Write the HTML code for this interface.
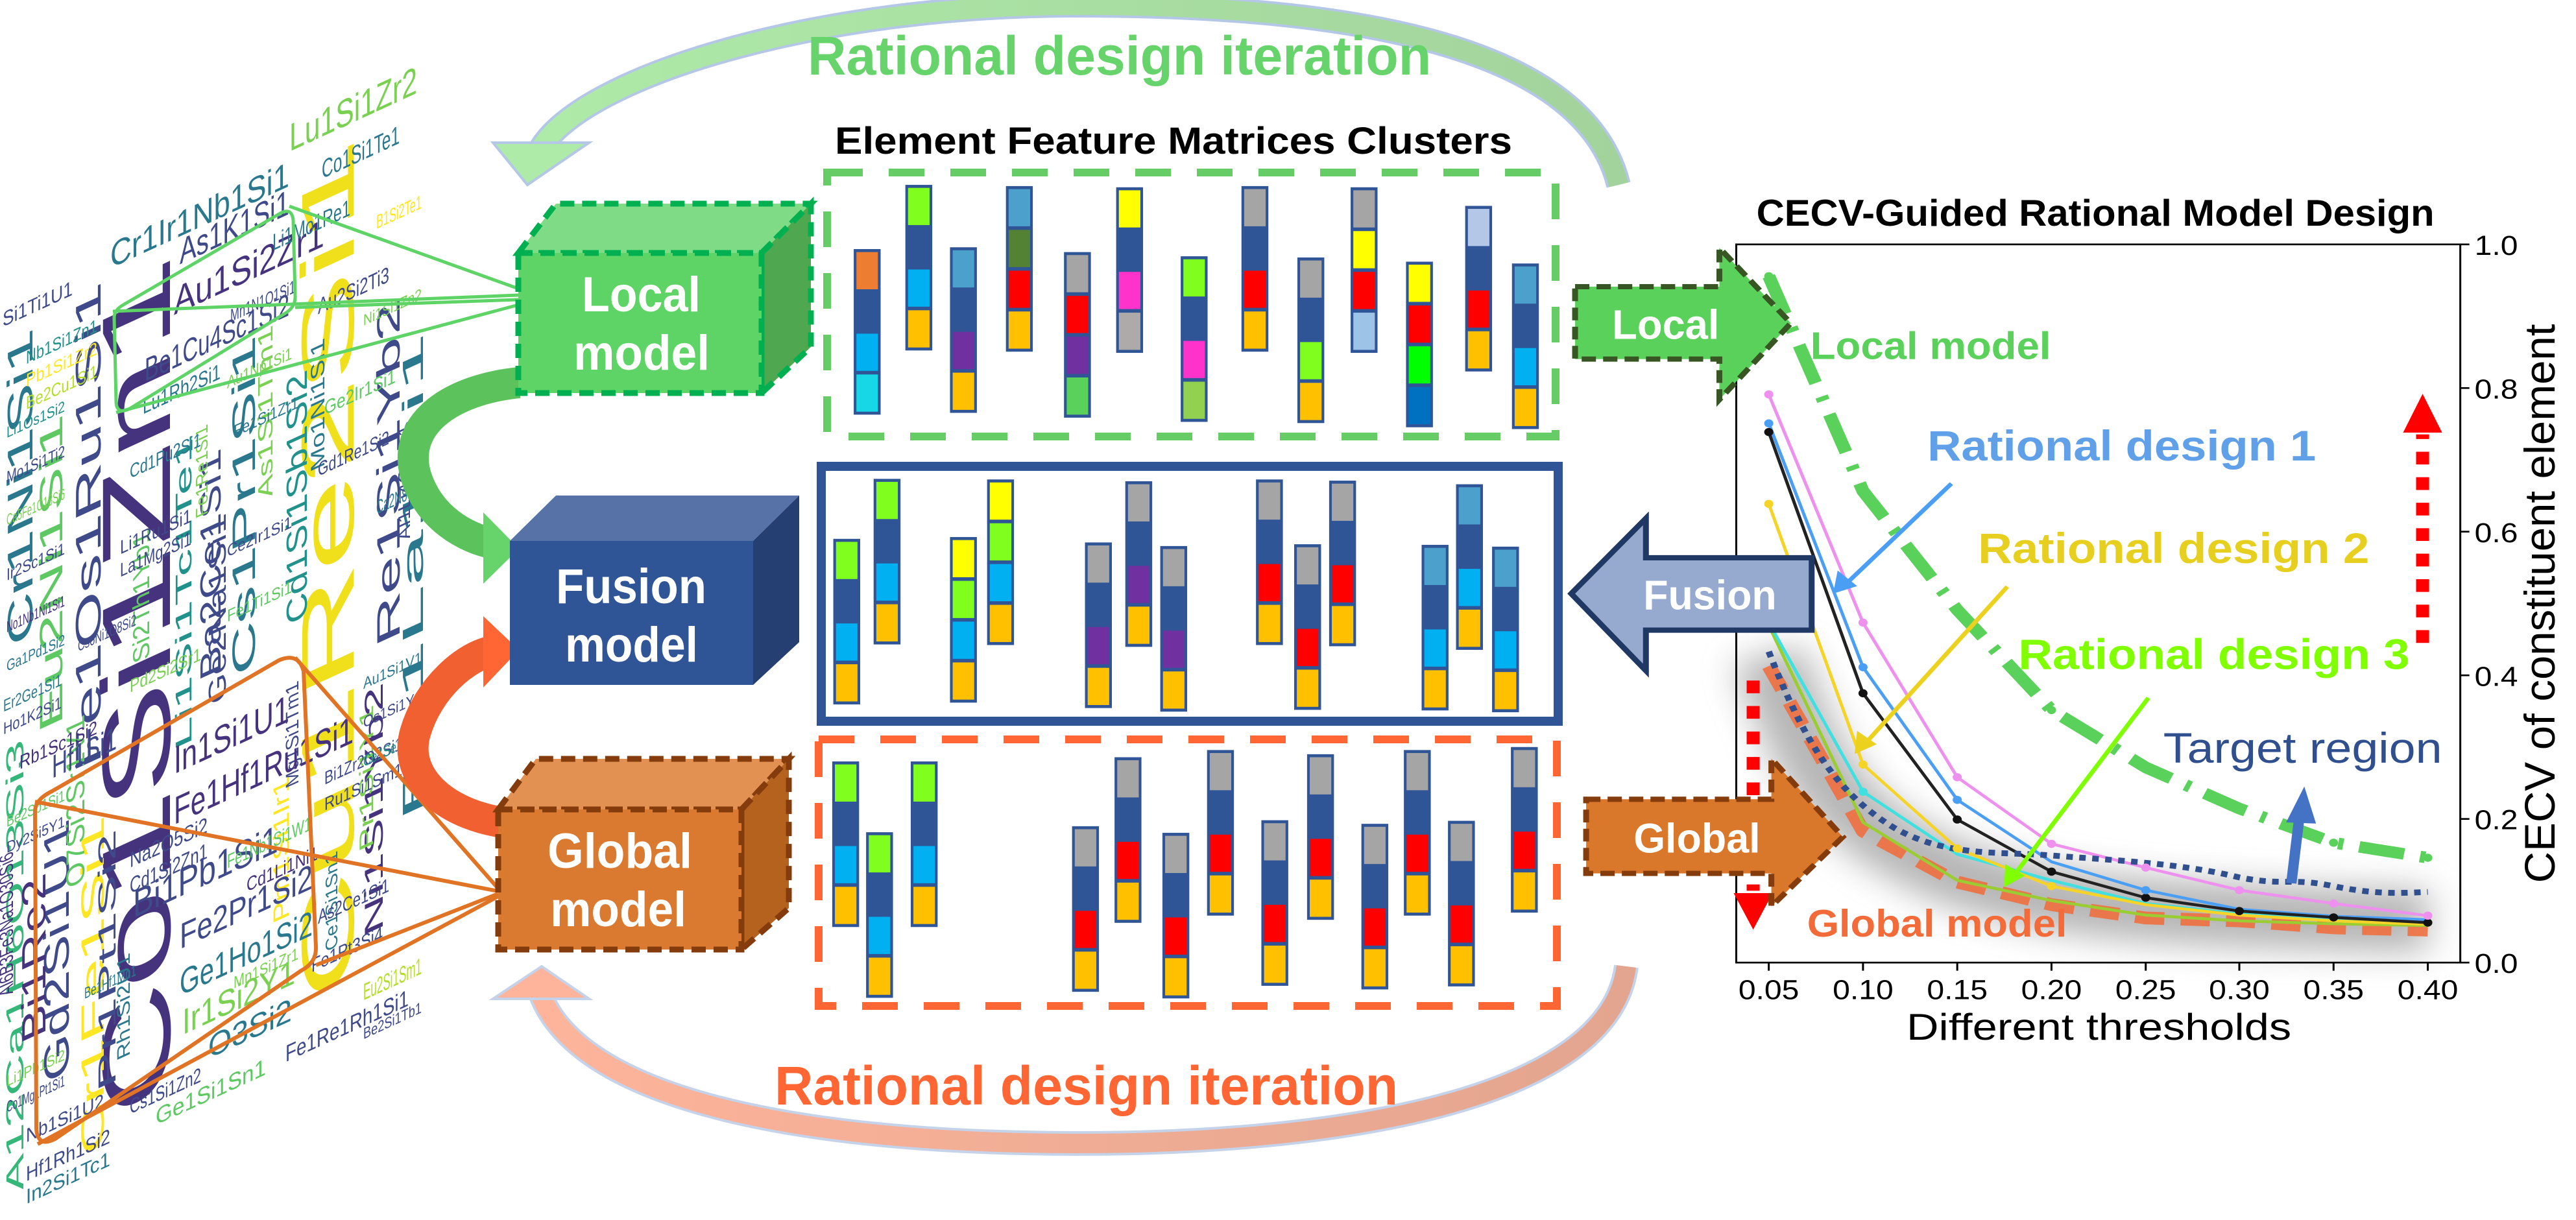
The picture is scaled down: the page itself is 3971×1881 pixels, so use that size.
<!DOCTYPE html>
<html><head><meta charset="utf-8"><style>
html,body{margin:0;padding:0;background:#fff}
svg{display:block}
text{font-family:"Liberation Sans",Arial,sans-serif}
.b{font-weight:bold}
</style></head><body>
<svg width="3971" height="1881" viewBox="0 0 3971 1881" xmlns="http://www.w3.org/2000/svg">
<defs>
<rect id="bar" width="50" height="276" fill="#2f5597"/>
<rect id="cO" width="40" height="62" fill="#ed7d31"/>
<rect id="cB" width="40" height="62" fill="#00b0f0"/>
<rect id="cC" width="40" height="62" fill="#17d7e6"/>
<rect id="cL" width="40" height="62" fill="#80ff1f"/>
<rect id="cA" width="40" height="62" fill="#ffc000"/>
<rect id="cLB" width="40" height="62" fill="#4ba0cc"/>
<rect id="cP" width="40" height="62" fill="#7030a0"/>
<rect id="cDG" width="40" height="62" fill="#548235"/>
<rect id="cR" width="40" height="62" fill="#ff0000"/>
<rect id="cG" width="40" height="62" fill="#a5a5a5"/>
<rect id="cGR" width="40" height="62" fill="#5ad15a"/>
<rect id="cY" width="40" height="62" fill="#ffff00"/>
<rect id="cM" width="40" height="62" fill="#ff33cc"/>
<rect id="cGA" width="40" height="62" fill="#aeaaaa"/>
<rect id="cLG" width="40" height="62" fill="#92d050"/>
<rect id="cPB" width="40" height="62" fill="#9dc3e6"/>
<rect id="cG0" width="40" height="62" fill="#00ff00"/>
<rect id="cB2" width="40" height="62" fill="#0070c0"/>
<rect id="cPL" width="40" height="62" fill="#b4c7e7"/>
<filter id="blur" x="-20%" y="-50%" width="140%" height="200%"><feGaussianBlur stdDeviation="28"/></filter>
<linearGradient id="gTop" x1="0" x2="1" y1="0" y2="0"><stop offset="0" stop-color="#aeeaa8"/><stop offset="1" stop-color="#a3d39c"/></linearGradient>
<linearGradient id="gBot" x1="0" x2="1" y1="0" y2="0"><stop offset="0" stop-color="#fdb49a"/><stop offset="1" stop-color="#e3a58f"/></linearGradient>
</defs>

<!-- ===== Word cloud ===== -->
<g transform="matrix(1,-0.46,0,1,0,420)">
<text transform="translate(262,1390) rotate(-90)" font-size="150" fill="#46337e" textLength="1300" lengthAdjust="spacingAndGlyphs">Co1Si1Zn1</text>
<text transform="translate(545,1350) rotate(-90)" font-size="115" fill="#f0e01c" textLength="1310" lengthAdjust="spacingAndGlyphs">Cu1Re2Si1</text>
<text transform="translate(50,587) rotate(-90)" font-size="55" fill="#2a788e" textLength="480" lengthAdjust="spacingAndGlyphs">Cr1Ni1Si1</text>
<text transform="translate(96,741) rotate(-90)" font-size="50" fill="#5ec962" textLength="480" lengthAdjust="spacingAndGlyphs">Eu2Ni1Si1</text>
<text transform="translate(155,828) rotate(-90)" font-size="55" fill="#3e4a89" textLength="744" lengthAdjust="spacingAndGlyphs">Fe1Os1Ru1Si1</text>
<text transform="translate(36,1430) rotate(-90)" font-size="38" fill="#35b779" textLength="696" lengthAdjust="spacingAndGlyphs">A12Ca1H6O13Si3</text>
<text transform="translate(106,1285) rotate(-90)" font-size="55" fill="#3e4a89" textLength="396" lengthAdjust="spacingAndGlyphs">Gd2Si1U1</text>
<text transform="translate(70,1208) rotate(-90)" font-size="52" fill="#46337e" textLength="252" lengthAdjust="spacingAndGlyphs">Bi1Re2</text>
<text transform="translate(160,1425) rotate(-90)" font-size="50" fill="#fde725" textLength="516" lengthAdjust="spacingAndGlyphs">Cr1Fe1Si1</text>
<text transform="translate(340,774) rotate(-90)" font-size="45" fill="#3e4a89" textLength="348" lengthAdjust="spacingAndGlyphs">Ba2Ce1Si1</text>
<text transform="translate(393,792) rotate(-90)" font-size="50" fill="#2a788e" textLength="516" lengthAdjust="spacingAndGlyphs">Cs1Pr1Si1</text>
<text transform="translate(473,750) rotate(-90)" font-size="45" fill="#21918c" textLength="384" lengthAdjust="spacingAndGlyphs">Cd1Si1Sb1Si2</text>
<text transform="translate(616,848) rotate(-90)" font-size="50" fill="#3e4a89" textLength="528" lengthAdjust="spacingAndGlyphs">Re1Si1Yb2</text>
<text transform="translate(652,1135) rotate(-90)" font-size="45" fill="#2a788e" textLength="744" lengthAdjust="spacingAndGlyphs">Ba1La1Si1</text>
<text transform="translate(590,1286) rotate(-90)" font-size="40" fill="#46337e" textLength="384" lengthAdjust="spacingAndGlyphs">Ni1Si1Yb2</text>
<text transform="translate(295,864) rotate(-90)" font-size="35" fill="#21918c" textLength="480" lengthAdjust="spacingAndGlyphs">Li1Si1Tc1Te1</text>
<text transform="translate(348,818) rotate(-90)" font-size="38" fill="#3e4a89" textLength="288" lengthAdjust="spacingAndGlyphs">Ge2Na1Si1</text>
<text transform="translate(178,1335) rotate(-90)" font-size="38" fill="#3e4a89" textLength="396" lengthAdjust="spacingAndGlyphs">Pr1Pt1Si2</text>
<text transform="translate(420,537) rotate(-90)" font-size="32" fill="#7ad151" textLength="264" lengthAdjust="spacingAndGlyphs">As1Si1Tm1</text>
<text transform="translate(230,700) rotate(-90)" font-size="36" fill="#5ec962" textLength="200" lengthAdjust="spacingAndGlyphs">Si2Th1Yb1</text>
<text transform="translate(130,1000) rotate(-90)" font-size="40" fill="#5ec962" textLength="260" lengthAdjust="spacingAndGlyphs">O7Si2Sr1V1</text>
<text transform="translate(445,1200) rotate(-90)" font-size="34" fill="#fde725" textLength="220" lengthAdjust="spacingAndGlyphs">Pm1Si1Ir1</text>
<text transform="translate(575,1150) rotate(-90)" font-size="30" fill="#7ad151" textLength="220" lengthAdjust="spacingAndGlyphs">Pr1Si1Y1</text>
<text transform="translate(500,530) rotate(-90)" font-size="30" fill="#2a788e" textLength="200" lengthAdjust="spacingAndGlyphs">Mo1Ni1Si1</text>
<text transform="translate(20,1120) rotate(-90)" font-size="30" fill="#46337e" textLength="220" lengthAdjust="spacingAndGlyphs">Al6B3Fe3Na1O30Si6</text>
<text transform="translate(632,700) rotate(-90)" font-size="26" fill="#3e4a89" textLength="180" lengthAdjust="spacingAndGlyphs">Al1Li4O6Si1</text>
<text transform="translate(200,1300) rotate(-90)" font-size="28" fill="#2a788e" textLength="160" lengthAdjust="spacingAndGlyphs">Rh1Si2U1</text>
<text transform="translate(460,1000) rotate(-90)" font-size="28" fill="#3e4a89" textLength="160" lengthAdjust="spacingAndGlyphs">Mg1Si1Tm1</text>
<text transform="translate(320,520) rotate(-90)" font-size="26" fill="#7ad151" textLength="140" lengthAdjust="spacingAndGlyphs">Fe1Re1Si1</text>
<text transform="translate(520,1280) rotate(-90)" font-size="26" fill="#2a788e" textLength="150" lengthAdjust="spacingAndGlyphs">Ce1Si1Sn1</text>

<text x="170" y="72" font-size="55" fill="#2a788e" textLength="276" lengthAdjust="spacingAndGlyphs">Cr1Ir1Nb1Si1</text>
<text x="446" y="19" font-size="60" fill="#7ad151" textLength="197" lengthAdjust="spacingAndGlyphs">Lu1Si1Zr2</text>
<text x="277" y="115" font-size="55" fill="#3e4a89" textLength="169" lengthAdjust="spacingAndGlyphs">As1K1Si1</text>
<text x="268" y="189" font-size="60" fill="#46337e" textLength="232" lengthAdjust="spacingAndGlyphs">Au1Si2Zr1</text>
<text x="223" y="271" font-size="50" fill="#3e4a89" textLength="223" lengthAdjust="spacingAndGlyphs">Be1Cu4Sc1Si2</text>
<text x="496" y="84" font-size="40" fill="#2a788e" textLength="120" lengthAdjust="spacingAndGlyphs">Co1Si1Te1</text>
<text x="268" y="897" font-size="60" fill="#46337e" textLength="178" lengthAdjust="spacingAndGlyphs">In1Si1U1</text>
<text x="268" y="975" font-size="60" fill="#46337e" textLength="277" lengthAdjust="spacingAndGlyphs">Fe1Hf1Ru1Si1</text>
<text x="205" y="1090" font-size="60" fill="#3e4a89" textLength="224" lengthAdjust="spacingAndGlyphs">Bi1Pb1Si1</text>
<text x="277" y="1171" font-size="55" fill="#3e4a89" textLength="205" lengthAdjust="spacingAndGlyphs">Fe2Pr1Si2</text>
<text x="277" y="1243" font-size="55" fill="#2a788e" textLength="205" lengthAdjust="spacingAndGlyphs">Ge1Ho1Si2</text>
<text x="281" y="1305" font-size="55" fill="#7ad151" textLength="174" lengthAdjust="spacingAndGlyphs">Ir1Si2Y1</text>
<text x="321" y="1360" font-size="50" fill="#2a788e" textLength="129" lengthAdjust="spacingAndGlyphs">O3Si2</text>
<text x="4" y="86" font-size="32" fill="#3e4a89" textLength="108" lengthAdjust="spacingAndGlyphs">Si1Ti1U1</text>
<text x="80" y="817" font-size="50" fill="#3e4a89" textLength="100" lengthAdjust="spacingAndGlyphs">Hf1Si1</text>
<text x="30" y="780" font-size="30" fill="#46337e" textLength="120" lengthAdjust="spacingAndGlyphs">Rb1Sc1Si2</text>
<text x="40" y="160" font-size="28" fill="#21918c" textLength="110" lengthAdjust="spacingAndGlyphs">Nb1Si1Zn1</text>
<text x="40" y="195" font-size="28" fill="#fde725" textLength="110" lengthAdjust="spacingAndGlyphs">Pb1Si1Zr2</text>
<text x="40" y="230" font-size="28" fill="#b5de2b" textLength="110" lengthAdjust="spacingAndGlyphs">Be2Cu1Si1</text>
<text x="10" y="330" font-size="26" fill="#3e4a89" textLength="90" lengthAdjust="spacingAndGlyphs">Mo1Si1Ti2</text>
<text x="10" y="480" font-size="26" fill="#3e4a89" textLength="90" lengthAdjust="spacingAndGlyphs">Ir2Sc1Si1</text>
<text x="5" y="680" font-size="26" fill="#2a788e" textLength="90" lengthAdjust="spacingAndGlyphs">Er2Ge1Si1</text>
<text x="5" y="715" font-size="26" fill="#3e4a89" textLength="90" lengthAdjust="spacingAndGlyphs">Ho1K2Si1</text>
<text x="200" y="410" font-size="30" fill="#2a788e" textLength="110" lengthAdjust="spacingAndGlyphs">Cd1Pu2Si1</text>
<text x="185" y="520" font-size="30" fill="#3e4a89" textLength="110" lengthAdjust="spacingAndGlyphs">Li1Ru1Si1</text>
<text x="185" y="555" font-size="30" fill="#3e4a89" textLength="110" lengthAdjust="spacingAndGlyphs">La1Mg2Si1</text>
<text x="220" y="320" font-size="34" fill="#2a788e" textLength="120" lengthAdjust="spacingAndGlyphs">Lu1Rb2Si1</text>
<text x="355" y="240" font-size="28" fill="#3e4a89" textLength="100" lengthAdjust="spacingAndGlyphs">Mn1N1O1Si1</text>
<text x="420" y="160" font-size="36" fill="#2a788e" textLength="120" lengthAdjust="spacingAndGlyphs">Li1Mo1Re1</text>
<text x="490" y="290" font-size="34" fill="#3e4a89" textLength="110" lengthAdjust="spacingAndGlyphs">Au2Si2Ti3</text>
<text x="500" y="450" font-size="30" fill="#5ec962" textLength="110" lengthAdjust="spacingAndGlyphs">Ge2Ir1Si1</text>
<text x="490" y="540" font-size="30" fill="#3e4a89" textLength="110" lengthAdjust="spacingAndGlyphs">Gd1Re1Si2</text>
<text x="200" y="740" font-size="28" fill="#7ad151" textLength="110" lengthAdjust="spacingAndGlyphs">Pd2Si2Sr1</text>
<text x="200" y="1010" font-size="34" fill="#3e4a89" textLength="120" lengthAdjust="spacingAndGlyphs">Na2O5Si2</text>
<text x="200" y="1050" font-size="34" fill="#3e4a89" textLength="120" lengthAdjust="spacingAndGlyphs">Cd1Si2Zn1</text>
<text x="350" y="1080" font-size="30" fill="#5ec962" textLength="130" lengthAdjust="spacingAndGlyphs">Fe1Nb1Si1W1</text>
<text x="380" y="1130" font-size="30" fill="#46337e" textLength="110" lengthAdjust="spacingAndGlyphs">Cd1Li1Ni1</text>
<text x="500" y="1020" font-size="28" fill="#3e4a89" textLength="120" lengthAdjust="spacingAndGlyphs">Bi1Zr2O2Si1</text>
<text x="500" y="1060" font-size="28" fill="#3e4a89" textLength="120" lengthAdjust="spacingAndGlyphs">Ru1Si1Sm1</text>
<text x="490" y="1230" font-size="30" fill="#3e4a89" textLength="110" lengthAdjust="spacingAndGlyphs">As2Ce1Si1</text>
<text x="480" y="1300" font-size="30" fill="#3e4a89" textLength="110" lengthAdjust="spacingAndGlyphs">Fe1Pt3Si4</text>
<text x="440" y="1420" font-size="36" fill="#3e4a89" textLength="190" lengthAdjust="spacingAndGlyphs">Fe1Re1Rh1Si1</text>
<text x="240" y="1425" font-size="36" fill="#5ec962" textLength="170" lengthAdjust="spacingAndGlyphs">Ge1Si1Sn1</text>
<text x="200" y="1390" font-size="32" fill="#3e4a89" textLength="110" lengthAdjust="spacingAndGlyphs">Cs1Si1Zn2</text>
<text x="40" y="1420" font-size="32" fill="#3e4a89" textLength="130" lengthAdjust="spacingAndGlyphs">Hf1Rh1Si2</text>
<text x="40" y="1455" font-size="32" fill="#2a788e" textLength="130" lengthAdjust="spacingAndGlyphs">In2Si1Tc1</text>
<text x="40" y="1360" font-size="30" fill="#3e4a89" textLength="120" lengthAdjust="spacingAndGlyphs">Nb1Si1U2</text>
<text x="560" y="1380" font-size="36" fill="#b5de2b" textLength="90" lengthAdjust="spacingAndGlyphs">Eu2Si1Sm1</text>
<text x="580" y="640" font-size="30" fill="#2a788e" textLength="70" lengthAdjust="spacingAndGlyphs">Ca2N8Si5</text>
<text x="580" y="200" font-size="30" fill="#fde725" textLength="70" lengthAdjust="spacingAndGlyphs">B1Si2Te1</text>
<text x="10" y="260" font-size="24" fill="#21918c" textLength="90" lengthAdjust="spacingAndGlyphs">Li1Os1Si2</text>
<text x="10" y="395" font-size="24" fill="#7ad151" textLength="90" lengthAdjust="spacingAndGlyphs">Ca5Fe1O18Si6</text>
<text x="10" y="560" font-size="24" fill="#46337e" textLength="90" lengthAdjust="spacingAndGlyphs">No1Nb1Ni1Si1</text>
<text x="10" y="620" font-size="24" fill="#2a788e" textLength="90" lengthAdjust="spacingAndGlyphs">Ga1Pd1Si2</text>
<text x="10" y="860" font-size="24" fill="#5ec962" textLength="90" lengthAdjust="spacingAndGlyphs">Be2Sb1Si1</text>
<text x="10" y="900" font-size="24" fill="#3e4a89" textLength="90" lengthAdjust="spacingAndGlyphs">Dy2Si5Y1</text>
<text x="10" y="1260" font-size="24" fill="#7ad151" textLength="90" lengthAdjust="spacingAndGlyphs">Li1Pb1Si2</text>
<text x="10" y="1300" font-size="24" fill="#3e4a89" textLength="90" lengthAdjust="spacingAndGlyphs">Co1Mg1Pt1Si1</text>
<text x="120" y="640" font-size="24" fill="#3e4a89" textLength="90" lengthAdjust="spacingAndGlyphs">Cs6Ni1O8Si2</text>
<text x="130" y="1180" font-size="24" fill="#2a788e" textLength="80" lengthAdjust="spacingAndGlyphs">Be1Hf1Mn1</text>
<text x="350" y="340" font-size="26" fill="#7ad151" textLength="100" lengthAdjust="spacingAndGlyphs">Au1Np1Si1</text>
<text x="360" y="420" font-size="26" fill="#2a788e" textLength="100" lengthAdjust="spacingAndGlyphs">Fe1Si1Zr1</text>
<text x="350" y="600" font-size="26" fill="#3e4a89" textLength="100" lengthAdjust="spacingAndGlyphs">Ce2Ir1Si1</text>
<text x="350" y="700" font-size="26" fill="#5ec962" textLength="100" lengthAdjust="spacingAndGlyphs">Fe1Ti1Si1</text>
<text x="360" y="1270" font-size="26" fill="#7ad151" textLength="100" lengthAdjust="spacingAndGlyphs">Mn1Si1Zr1</text>
<text x="560" y="340" font-size="24" fill="#7ad151" textLength="90" lengthAdjust="spacingAndGlyphs">Ni1Si1Zn2</text>
<text x="560" y="900" font-size="24" fill="#2a788e" textLength="90" lengthAdjust="spacingAndGlyphs">Au1Si1V1</text>
<text x="560" y="960" font-size="24" fill="#3e4a89" textLength="90" lengthAdjust="spacingAndGlyphs">Os1Si1Y6</text>
<text x="560" y="1020" font-size="24" fill="#21918c" textLength="90" lengthAdjust="spacingAndGlyphs">Ce1Se1Sn1</text>
<text x="560" y="1440" font-size="24" fill="#3e4a89" textLength="90" lengthAdjust="spacingAndGlyphs">Be2Si1Tb1</text>
</g>
<!-- cloud highlight boxes -->
<g fill="none" stroke="#5ed466" stroke-width="5">
<path d="M190,470 L430,330 Q450,318 452,340 L455,456 Q456,474 438,484 L200,630 Q180,640 179,620 L176,490 Q176,478 190,470 Z"/>
<line x1="446" y1="318" x2="799" y2="445"/><line x1="174" y1="480" x2="799" y2="455"/><line x1="455" y1="474" x2="799" y2="462"/><line x1="179" y1="636" x2="799" y2="470"/>
</g>
<g fill="none" stroke="#e07424" stroke-width="6">
<path d="M80,1220 L430,1018 Q460,1005 468,1035 L487,1460 Q488,1484 465,1496 L85,1756 Q58,1770 56,1740 L54,1250 Q55,1232 80,1220 Z"/>
<line x1="455" y1="1014" x2="768" y2="1370"/><line x1="54" y1="1236" x2="768" y2="1374"/><line x1="487" y1="1488" x2="768" y2="1378"/><line x1="58" y1="1764" x2="768" y2="1382"/>
</g>

<!-- ===== Iteration arcs ===== -->
<path d="M2495,285 C2440,60 2050,8 1660,8 C1250,8 900,120 834,228" fill="none" stroke="#b4c7e7" stroke-width="38"/>
<path d="M2495,285 C2440,60 2050,8 1660,8 C1250,8 900,120 834,228" fill="none" stroke="url(#gTop)" stroke-width="30"/>
<polygon points="760,220 908,220 813,285" fill="#aeeaa8" stroke="#b4c7e7" stroke-width="4"/>
<text class="b" x="1245" y="115" font-size="84" fill="#66d36b" textLength="961" lengthAdjust="spacingAndGlyphs">Rational design iteration</text>

<path d="M2507,1490 C2480,1700 2050,1763 1664,1763 C1250,1763 900,1700 834,1535" fill="none" stroke="#c5d3ea" stroke-width="38"/>
<path d="M2507,1490 C2480,1700 2050,1763 1664,1763 C1250,1763 900,1700 834,1535" fill="none" stroke="url(#gBot)" stroke-width="30"/>
<polygon points="760,1540 908,1540 835,1490" fill="#fdb49a" stroke="#c5d3ea" stroke-width="4"/>
<text class="b" x="1194" y="1703" font-size="84" fill="#ff6633" textLength="961" lengthAdjust="spacingAndGlyphs">Rational design iteration</text>

<!-- ===== 3D boxes ===== -->
<path d="M800,590 C700,600 620,650 640,730 C660,800 720,830 760,838" fill="none" stroke="#5cc25c" stroke-width="48"/>
<polygon points="745,790 800,846 745,900" fill="#66d36b"/>
<path d="M790,1270 C690,1260 620,1200 640,1130 C660,1060 720,1010 760,1004" fill="none" stroke="#f06030" stroke-width="48"/>
<polygon points="745,950 800,1002 745,1060" fill="#ff6633"/>

<g stroke="#00b050" stroke-width="9" stroke-dasharray="22 12">
<polygon points="799,390 857,314 1250,314 1174,390" fill="#80db86"/>
<polygon points="1174,390 1250,314 1250,535 1174,606" fill="#4fa84f"/>
<rect x="799" y="390" width="375" height="216" fill="#5ed466"/>
</g>
<text class="b" x="897" y="480" font-size="76" fill="#fff" textLength="183" lengthAdjust="spacingAndGlyphs">Local</text>
<text class="b" x="884" y="570" font-size="76" fill="#fff" textLength="210" lengthAdjust="spacingAndGlyphs">model</text>

<polygon points="786,834 857,764 1232,764 1161,834" fill="#5672a6"/>
<polygon points="1161,834 1232,764 1232,990 1161,1056" fill="#253f73"/>
<rect x="786" y="834" width="375" height="222" fill="#2f5597"/>
<text class="b" x="857" y="930" font-size="76" fill="#fff" textLength="232" lengthAdjust="spacingAndGlyphs">Fusion</text>
<text class="b" x="871" y="1020" font-size="76" fill="#fff" textLength="205" lengthAdjust="spacingAndGlyphs">model</text>

<g stroke="#843c0c" stroke-width="9" stroke-dasharray="22 12">
<polygon points="768,1248 826,1170 1216,1170 1143,1248" fill="#e39152"/>
<polygon points="1143,1248 1216,1170 1216,1400 1143,1464" fill="#b5621f"/>
<rect x="768" y="1248" width="375" height="216" fill="#d97a30"/>
</g>
<text class="b" x="844" y="1338" font-size="76" fill="#fff" textLength="223" lengthAdjust="spacingAndGlyphs">Global</text>
<text class="b" x="848" y="1428" font-size="76" fill="#fff" textLength="210" lengthAdjust="spacingAndGlyphs">model</text>

<!-- ===== Clusters ===== -->
<text class="b" x="1287" y="237" font-size="58" fill="#000" textLength="1044" lengthAdjust="spacingAndGlyphs">Element Feature Matrices Clusters</text>
<rect x="1275" y="266" width="1123" height="407" fill="none" stroke="#66cc66" stroke-width="12" stroke-dasharray="55 40"/>
<rect x="1266" y="719" width="1136" height="393" fill="none" stroke="#2f5597" stroke-width="14"/>
<rect x="1262" y="1140" width="1138" height="411" fill="none" stroke="#ff6633" stroke-width="12" stroke-dasharray="55 40"/>

<g transform="translate(1200,150) scale(0.829,0.925)">
<use href="#bar" x="140" y="253"/><use href="#cO" x="145" y="258"/><use href="#cB" x="145" y="394"/><use href="#cC" x="145" y="462"/>
<use href="#bar" x="236" y="146"/><use href="#cL" x="241" y="151"/><use href="#cB" x="241" y="287"/><use href="#cA" x="241" y="355"/>
<use href="#bar" x="319" y="250"/><use href="#cLB" x="324" y="255"/><use href="#cP" x="324" y="391"/><use href="#cA" x="324" y="459"/>
<use href="#bar" x="423" y="148"/><use href="#cLB" x="428" y="153"/><use href="#cDG" x="428" y="221"/><use href="#cR" x="428" y="289"/><use href="#cA" x="428" y="357"/>
<use href="#bar" x="531" y="258"/><use href="#cG" x="536" y="263"/><use href="#cR" x="536" y="331"/><use href="#cP" x="536" y="399"/><use href="#cGR" x="536" y="467"/>
<use href="#bar" x="628" y="150"/><use href="#cY" x="633" y="155"/><use href="#cM" x="633" y="291"/><use href="#cGA" x="633" y="359"/>
<use href="#bar" x="748" y="265"/><use href="#cL" x="753" y="270"/><use href="#cM" x="753" y="406"/><use href="#cLG" x="753" y="474"/>
<use href="#bar" x="861" y="148"/><use href="#cG" x="866" y="153"/><use href="#cR" x="866" y="289"/><use href="#cA" x="866" y="357"/>
<use href="#bar" x="965" y="267"/><use href="#cG" x="970" y="272"/><use href="#cL" x="970" y="408"/><use href="#cA" x="970" y="476"/>
<use href="#bar" x="1064" y="150"/><use href="#cG" x="1069" y="155"/><use href="#cY" x="1069" y="223"/><use href="#cR" x="1069" y="291"/><use href="#cPB" x="1069" y="359"/>
<use href="#bar" x="1167" y="274"/><use href="#cY" x="1172" y="279"/><use href="#cR" x="1172" y="347"/><use href="#cG0" x="1172" y="415"/><use href="#cB2" x="1172" y="483"/>
<use href="#bar" x="1277" y="181"/><use href="#cPL" x="1282" y="186"/><use href="#cR" x="1282" y="322"/><use href="#cA" x="1282" y="390"/>
<use href="#bar" x="1364" y="277"/><use href="#cLB" x="1369" y="282"/><use href="#cB" x="1369" y="418"/><use href="#cA" x="1369" y="486"/>
<use href="#bar" x="102" y="736"/><use href="#cL" x="107" y="741"/><use href="#cB" x="107" y="877"/><use href="#cA" x="107" y="945"/>
<use href="#bar" x="177" y="636"/><use href="#cL" x="182" y="641"/><use href="#cB" x="182" y="777"/><use href="#cA" x="182" y="845"/>
<use href="#bar" x="319" y="733"/><use href="#cY" x="324" y="738"/><use href="#cL" x="324" y="806"/><use href="#cB" x="324" y="874"/><use href="#cA" x="324" y="942"/>
<use href="#bar" x="388" y="637"/><use href="#cY" x="393" y="642"/><use href="#cL" x="393" y="710"/><use href="#cB" x="393" y="778"/><use href="#cA" x="393" y="846"/>
<use href="#bar" x="570" y="742"/><use href="#cG" x="575" y="747"/><use href="#cP" x="575" y="883"/><use href="#cA" x="575" y="951"/>
<use href="#bar" x="645" y="640"/><use href="#cG" x="650" y="645"/><use href="#cP" x="650" y="781"/><use href="#cA" x="650" y="849"/>
<use href="#bar" x="710" y="748"/><use href="#cG" x="715" y="753"/><use href="#cP" x="715" y="889"/><use href="#cA" x="715" y="957"/>
<use href="#bar" x="888" y="637"/><use href="#cG" x="893" y="642"/><use href="#cR" x="893" y="778"/><use href="#cA" x="893" y="846"/>
<use href="#bar" x="959" y="745"/><use href="#cG" x="964" y="750"/><use href="#cR" x="964" y="886"/><use href="#cA" x="964" y="954"/>
<use href="#bar" x="1024" y="639"/><use href="#cG" x="1029" y="644"/><use href="#cR" x="1029" y="780"/><use href="#cA" x="1029" y="848"/>
<use href="#bar" x="1196" y="746"/><use href="#cLB" x="1201" y="751"/><use href="#cB" x="1201" y="887"/><use href="#cA" x="1201" y="955"/>
<use href="#bar" x="1260" y="645"/><use href="#cLB" x="1265" y="650"/><use href="#cB" x="1265" y="786"/><use href="#cA" x="1265" y="854"/>
<use href="#bar" x="1327" y="749"/><use href="#cLB" x="1332" y="754"/><use href="#cB" x="1332" y="890"/><use href="#cA" x="1332" y="958"/>
<use href="#bar" x="100" y="1107"/><use href="#cL" x="105" y="1112"/><use href="#cB" x="105" y="1248"/><use href="#cA" x="105" y="1316"/>
<use href="#bar" x="163" y="1225"/><use href="#cL" x="168" y="1230"/><use href="#cB" x="168" y="1366"/><use href="#cA" x="168" y="1434"/>
<use href="#bar" x="246" y="1107"/><use href="#cL" x="251" y="1112"/><use href="#cB" x="251" y="1248"/><use href="#cA" x="251" y="1316"/>
<use href="#bar" x="546" y="1215"/><use href="#cG" x="551" y="1220"/><use href="#cR" x="551" y="1356"/><use href="#cA" x="551" y="1424"/>
<use href="#bar" x="625" y="1100"/><use href="#cG" x="630" y="1105"/><use href="#cR" x="630" y="1241"/><use href="#cA" x="630" y="1309"/>
<use href="#bar" x="714" y="1226"/><use href="#cG" x="719" y="1231"/><use href="#cR" x="719" y="1367"/><use href="#cA" x="719" y="1435"/>
<use href="#bar" x="797" y="1088"/><use href="#cG" x="802" y="1093"/><use href="#cR" x="802" y="1229"/><use href="#cA" x="802" y="1297"/>
<use href="#bar" x="898" y="1205"/><use href="#cG" x="903" y="1210"/><use href="#cR" x="903" y="1346"/><use href="#cA" x="903" y="1414"/>
<use href="#bar" x="983" y="1095"/><use href="#cG" x="988" y="1100"/><use href="#cR" x="988" y="1236"/><use href="#cA" x="988" y="1304"/>
<use href="#bar" x="1084" y="1211"/><use href="#cG" x="1089" y="1216"/><use href="#cR" x="1089" y="1352"/><use href="#cA" x="1089" y="1420"/>
<use href="#bar" x="1163" y="1088"/><use href="#cG" x="1168" y="1093"/><use href="#cR" x="1168" y="1229"/><use href="#cA" x="1168" y="1297"/>
<use href="#bar" x="1245" y="1206"/><use href="#cG" x="1250" y="1211"/><use href="#cR" x="1250" y="1347"/><use href="#cA" x="1250" y="1415"/>
<use href="#bar" x="1362" y="1083"/><use href="#cG" x="1367" y="1088"/><use href="#cR" x="1367" y="1224"/><use href="#cA" x="1367" y="1292"/>
</g>

<!-- ===== Plot ===== -->
<g transform="translate(2400,250) scale(1.0019,0.893)">
<text class="b" x="307" y="110" font-size="64" fill="#000" textLength="1043" lengthAdjust="spacingAndGlyphs">CECV-Guided Rational Model Design</text>
<path d="M326,850 C400,1100 471,1160 616,1230 C761,1285 906,1300 1340,1310" fill="none" stroke="#7a7a7a" stroke-width="110" opacity="0.55" filter="url(#blur)"/>
<rect x="276" y="142" width="1114" height="1240" fill="none" stroke="#000" stroke-width="3"/>
<g stroke="#000" stroke-width="3">
<line x1="326" y1="1382" x2="326" y2="1396"/><line x1="471" y1="1382" x2="471" y2="1396"/><line x1="616" y1="1382" x2="616" y2="1396"/><line x1="761" y1="1382" x2="761" y2="1396"/><line x1="906" y1="1382" x2="906" y2="1396"/><line x1="1050" y1="1382" x2="1050" y2="1396"/><line x1="1195" y1="1382" x2="1195" y2="1396"/><line x1="1340" y1="1382" x2="1340" y2="1396"/>
<line x1="1390" y1="142" x2="1404" y2="142"/><line x1="1390" y1="390" x2="1404" y2="390"/><line x1="1390" y1="638" x2="1404" y2="638"/><line x1="1390" y1="886" x2="1404" y2="886"/><line x1="1390" y1="1134" x2="1404" y2="1134"/><line x1="1390" y1="1382" x2="1404" y2="1382"/>
</g>
<g font-size="48" fill="#000" text-anchor="middle">
<text x="326" y="1445">0.05</text><text x="471" y="1445">0.10</text><text x="616" y="1445">0.15</text><text x="761" y="1445">0.20</text><text x="906" y="1445">0.25</text><text x="1050" y="1445">0.30</text><text x="1195" y="1445">0.35</text><text x="1340" y="1445">0.40</text>
</g>
<g font-size="48" fill="#000">
<text x="1412" y="160">1.0</text><text x="1412" y="408">0.8</text><text x="1412" y="656">0.6</text><text x="1412" y="904">0.4</text><text x="1412" y="1152">0.2</text><text x="1412" y="1400">0.0</text>
</g>
<text x="834" y="1515" font-size="64" fill="#000" text-anchor="middle" textLength="592" lengthAdjust="spacingAndGlyphs">Different thresholds</text>
<text transform="translate(1535,762) rotate(-90)" font-size="66" fill="#000" text-anchor="middle" textLength="965" lengthAdjust="spacingAndGlyphs">CECV of constituent element</text>

<g fill="none" stroke-linejoin="round">
<polyline points="326,870 471,1155 616,1243 761,1282 906,1305 1050,1310 1195,1322 1340,1326" stroke="#f26b38" stroke-width="22" stroke-dasharray="45 25" opacity="0.85"/>
<polyline points="326,800 471,1140 616,1240 761,1275 906,1300 1050,1310 1195,1315 1340,1318" stroke="#9acd32" stroke-width="5"/>
<polyline points="326,795 471,1087 616,1195 761,1240 906,1280 1050,1298 1195,1306 1340,1313" stroke="#40e0e0" stroke-width="5"/>
<polyline points="326,590 471,1040 616,1185 761,1250 906,1282 1050,1300 1195,1310 1340,1316" stroke="#f5d327" stroke-width="5"/>
<polyline points="326,401 471,795 616,1062 761,1177 906,1218 1050,1257 1195,1280 1340,1301" stroke="#ee90ee" stroke-width="5"/>
<polyline points="326,451 471,872 616,1101 761,1208 906,1257 1050,1290 1195,1302 1340,1308" stroke="#4a9ff5" stroke-width="5"/>
<polyline points="326,466 471,917 616,1135 761,1225 906,1270 1050,1293 1195,1304 1340,1313" stroke="#222" stroke-width="5"/>
<path d="M326,845 C380,1000 430,1090 520,1150 C600,1200 680,1190 761,1197 C850,1205 960,1210 1050,1235 C1120,1250 1130,1235 1195,1250 C1260,1265 1300,1262 1340,1260" stroke="#2f4f8f" stroke-width="10" stroke-dasharray="10 10"/>
<polyline points="326,197 471,568 616,773 761,946 906,1045 1050,1116 1195,1175 1340,1201" stroke="#5ad15a" stroke-width="20" stroke-dasharray="70 25 8 25"/>
</g>
<g>
<circle cx="326" cy="197" r="7" fill="#5ad15a"/><circle cx="471" cy="568" r="7" fill="#5ad15a"/><circle cx="616" cy="773" r="7" fill="#5ad15a"/><circle cx="761" cy="946" r="7" fill="#5ad15a"/><circle cx="906" cy="1045" r="7" fill="#5ad15a"/><circle cx="1050" cy="1116" r="7" fill="#5ad15a"/><circle cx="1195" cy="1175" r="7" fill="#5ad15a"/><circle cx="1340" cy="1201" r="7" fill="#5ad15a"/>
<circle cx="326" cy="466" r="7" fill="#111"/><circle cx="471" cy="917" r="7" fill="#111"/><circle cx="616" cy="1135" r="7" fill="#111"/><circle cx="761" cy="1225" r="7" fill="#111"/><circle cx="906" cy="1270" r="7" fill="#111"/><circle cx="1050" cy="1293" r="7" fill="#111"/><circle cx="1195" cy="1304" r="7" fill="#111"/><circle cx="1340" cy="1313" r="7" fill="#111"/>
<circle cx="326" cy="401" r="7" fill="#ee90ee"/><circle cx="471" cy="795" r="7" fill="#ee90ee"/><circle cx="616" cy="1062" r="7" fill="#ee90ee"/><circle cx="761" cy="1177" r="7" fill="#ee90ee"/><circle cx="906" cy="1218" r="7" fill="#ee90ee"/><circle cx="1050" cy="1257" r="7" fill="#ee90ee"/><circle cx="1195" cy="1280" r="7" fill="#ee90ee"/><circle cx="1340" cy="1301" r="7" fill="#ee90ee"/>
<circle cx="326" cy="451" r="7" fill="#4a9ff5"/><circle cx="471" cy="872" r="7" fill="#4a9ff5"/><circle cx="616" cy="1101" r="7" fill="#4a9ff5"/><circle cx="906" cy="1257" r="7" fill="#4a9ff5"/>
<circle cx="326" cy="590" r="7" fill="#f5d327"/><circle cx="471" cy="1040" r="7" fill="#f5d327"/><circle cx="616" cy="1185" r="7" fill="#f5d327"/><circle cx="761" cy="1250" r="7" fill="#f5d327"/>
<circle cx="326" cy="795" r="7" fill="#40e0e0"/><circle cx="471" cy="1087" r="7" fill="#40e0e0"/>
</g>

<line x1="607" y1="555" x2="445" y2="728" stroke="#4a9ff5" stroke-width="7"/><polygon points="425,745 432,705 462,732" fill="#4a9ff5"/>
<line x1="693" y1="733" x2="475" y2="1003" stroke="#ecd21f" stroke-width="7"/><polygon points="458,1022 462,982 492,1005" fill="#ecd21f"/>
<line x1="910" y1="925" x2="703" y2="1232" stroke="#7fff00" stroke-width="7"/><polygon points="688,1252 690,1212 720,1232" fill="#7fff00"/>
<line x1="1130" y1="1245" x2="1143" y2="1125" stroke="#4472c4" stroke-width="16"/><polygon points="1122,1140 1168,1142 1150,1078" fill="#4472c4"/>
<line x1="1332" y1="830" x2="1332" y2="470" stroke="#ff0000" stroke-width="20" stroke-dasharray="22 22"/><polygon points="1302,467 1362,467 1332,400" fill="#ff0000"/>
<line x1="302" y1="895" x2="302" y2="1258" stroke="#ff0000" stroke-width="20" stroke-dasharray="22 22"/><polygon points="272,1262 332,1262 302,1325" fill="#ff0000"/>

<polygon points="28,215 250,215 250,148 360,278 250,410 250,340 28,340" fill="#5ad15a" stroke="#375623" stroke-width="9" stroke-dasharray="22 11"/>
<text class="b" x="85" y="305" font-size="72" fill="#fff" textLength="165" lengthAdjust="spacingAndGlyphs">Local</text>
<polygon points="392,683 137,683 137,615 22,745 137,878 137,808 392,808" fill="#96a9cf" stroke="#203864" stroke-width="9"/>
<text class="b" x="133" y="772" font-size="72" fill="#fff" textLength="205" lengthAdjust="spacingAndGlyphs">Fusion</text>
<polygon points="45,1100 330,1100 330,1030 440,1165 330,1285 330,1228 45,1228" fill="#d9772b" stroke="#843c0c" stroke-width="9" stroke-dasharray="22 11"/>
<text class="b" x="118" y="1192" font-size="72" fill="#fff" textLength="195" lengthAdjust="spacingAndGlyphs">Global</text>

<text class="b" x="390" y="340" font-size="66" fill="#5ad15a" textLength="370" lengthAdjust="spacingAndGlyphs">Local model</text>
<text class="b" x="570" y="515" font-size="74" fill="#5fa0e8" textLength="598" lengthAdjust="spacingAndGlyphs">Rational design 1</text>
<text class="b" x="648" y="692" font-size="74" fill="#e6cf1f" textLength="602" lengthAdjust="spacingAndGlyphs">Rational design 2</text>
<text class="b" x="710" y="875" font-size="74" fill="#7fff00" textLength="602" lengthAdjust="spacingAndGlyphs">Rational design 3</text>
<text x="933" y="1037" font-size="74" fill="#2f4f8f" textLength="429" lengthAdjust="spacingAndGlyphs">Target region</text>
<text class="b" x="385" y="1337" font-size="66" fill="#f26b38" textLength="400" lengthAdjust="spacingAndGlyphs">Global model</text>
</g>
</svg>
</body></html>
